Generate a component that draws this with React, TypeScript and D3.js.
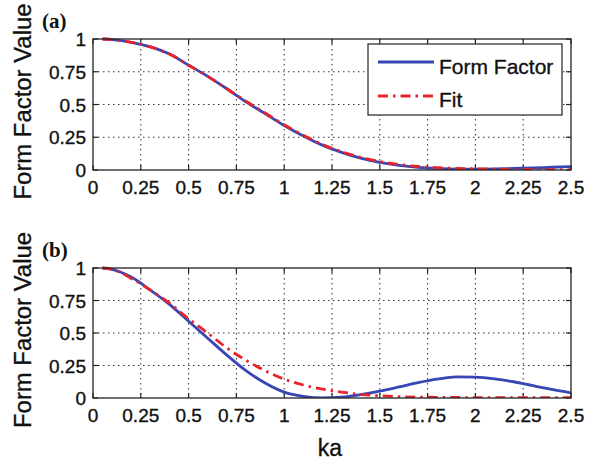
import React from "react";
import * as d3 from "d3";

// ka sample points shared by the curves
const kaA = [0.05, 0.1, 0.2, 0.3, 0.4, 0.5, 0.6, 0.7, 0.8, 0.9, 1.0, 1.1, 1.2, 1.3, 1.4, 1.5, 1.6, 1.7, 1.8, 1.9, 2.0, 2.1, 2.2, 2.3, 2.4, 2.5];

// panel (a)
const formFactorA = [1.0, 0.995, 0.975, 0.94, 0.885, 0.8, 0.715, 0.62, 0.52, 0.43, 0.34, 0.26, 0.19, 0.135, 0.09, 0.058, 0.035, 0.02, 0.012, 0.007, 0.006, 0.008, 0.012, 0.016, 0.021, 0.026];
const fitA = [1.0, 0.995, 0.975, 0.94, 0.885, 0.8, 0.715, 0.62, 0.525, 0.435, 0.345, 0.265, 0.195, 0.14, 0.097, 0.065, 0.042, 0.027, 0.018, 0.012, 0.009, 0.007, 0.005, 0.004, 0.003, 0.003];

// panel (b)
const formFactorB = [1.0, 0.99, 0.93, 0.83, 0.72, 0.59, 0.46, 0.33, 0.21, 0.115, 0.045, 0.012, 0.0, 0.006, 0.026, 0.053, 0.085, 0.118, 0.145, 0.162, 0.16, 0.147, 0.125, 0.095, 0.066, 0.04];
const fitB = [1.0, 0.99, 0.92, 0.83, 0.73, 0.61, 0.5, 0.385, 0.29, 0.21, 0.145, 0.1, 0.068, 0.045, 0.028, 0.017, 0.01, 0.007, 0.005, 0.004, 0.003, 0.003, 0.002, 0.002, 0.002, 0.002];

const xTicks = [0, 0.25, 0.5, 0.75, 1, 1.25, 1.5, 1.75, 2, 2.25, 2.5];
const yTicks = [0, 0.25, 0.5, 0.75, 1];
const seriesNames = ["Form Factor", "Fit"];

const BLUE = "#3646b4";
const RED = "#e8242a";
const FONT = "'Liberation Sans', Arial, Helvetica, sans-serif";
const INK = "#111";

const left = 93;
const right = 571;

// slightly heavier text strokes
const textStyle = { stroke: INK, strokeWidth: 0.35 };

function Panel({ top, bottom, ff, fit, tag, legend }: { top: number; bottom: number; ff: number[]; fit: number[]; tag: string; legend: boolean }) {
  const x = d3.scaleLinear().domain([0, 2.5]).range([left, right]);
  const y = d3.scaleLinear().domain([0, 1]).range([bottom, top]);
  const line = d3
    .line<number>()
    .x((_, i) => x(kaA[i]))
    .y((d) => y(d))
    .curve(d3.curveMonotoneX);
  const clipId = `clip-${tag}`;
  const tickLen = 5;
  return (
    <g>
      <defs>
        <clipPath id={clipId}>
          <rect x={left} y={top - 2} width={right - left} height={bottom - top + 2} />
        </clipPath>
      </defs>
      {/* grid */}
      {xTicks.slice(1, -1).map((t) => (
        <line key={"gx" + t} x1={x(t)} x2={x(t)} y1={top} y2={bottom} stroke="#333" strokeWidth={1} strokeDasharray="1.5,3.5" />
      ))}
      {yTicks.slice(1, -1).map((t) => (
        <line key={"gy" + t} x1={left} x2={right} y1={y(t)} y2={y(t)} stroke="#333" strokeWidth={1} strokeDasharray="1.5,3.5" />
      ))}
      {/* inner ticks on all four sides */}
      {xTicks.map((t) => (
        <g key={"tx" + t}>
          <line x1={x(t)} x2={x(t)} y1={bottom} y2={bottom - tickLen} stroke="#222" strokeWidth={1.2} />
          <line x1={x(t)} x2={x(t)} y1={top} y2={top + tickLen} stroke="#222" strokeWidth={1.2} />
          <text x={x(t)} y={bottom + 24} textAnchor="middle" fontSize={19} fontFamily={FONT} fill={INK} style={textStyle}>
            {String(t)}
          </text>
        </g>
      ))}
      {yTicks.map((t) => (
        <g key={"ty" + t}>
          <line x1={left} x2={left + tickLen} y1={y(t)} y2={y(t)} stroke="#222" strokeWidth={1.2} />
          <line x1={right} x2={right - tickLen} y1={y(t)} y2={y(t)} stroke="#222" strokeWidth={1.2} />
          <text x={86} y={y(t) + 7} textAnchor="end" fontSize={19} fontFamily={FONT} fill={INK} style={textStyle}>
            {String(t)}
          </text>
        </g>
      ))}
      {/* curves */}
      <g clipPath={`url(#${clipId})`}>
        <path d={line(ff) ?? ""} fill="none" stroke={BLUE} strokeWidth={2.8} />
        <path d={line(fit) ?? ""} fill="none" stroke={RED} strokeWidth={2.8} strokeDasharray="10,5,2.5,5" />
      </g>
      <rect x={left} y={top} width={right - left} height={bottom - top} fill="none" stroke="#222" strokeWidth={1.3} />
      {/* y label */}
      <text
        transform={`translate(31,${(top + bottom) / 2 - 3}) rotate(-90)`}
        textAnchor="middle"
        fontSize={23}
        fontFamily={FONT}
        fill={INK}
        style={textStyle}
        textLength={196}
        lengthAdjust="spacingAndGlyphs"
      >
        Form Factor Value
      </text>
      <text x={42} y={top - 11} fontSize={21} fontWeight="bold" fontFamily="'Liberation Serif', 'Times New Roman', serif" fill={INK}>
        {`(${tag})`}
      </text>
      {legend && (
        <g>
          <rect x={368} y={44} width={194} height={71} fill="#fff" stroke="#222" strokeWidth={1.2} />
          <line x1={378} x2={434} y1={62} y2={62} stroke={BLUE} strokeWidth={2.8} />
          <line x1={378} x2={434} y1={96} y2={96} stroke={RED} strokeWidth={2.8} strokeDasharray="10,5,2.5,5" />
          <text x={439} y={74} fontSize={21} fontFamily={FONT} fill={INK} style={textStyle}>
            {seriesNames[0]}
          </text>
          <text x={439} y={107} fontSize={21} fontFamily={FONT} fill={INK} style={textStyle}>
            {seriesNames[1]}
          </text>
        </g>
      )}
    </g>
  );
}

export default function App() {
  return (
    <svg width={590} height={462} style={{ position: "absolute", left: 0, top: 0, background: "#fff" }}>
      <rect width={590} height={462} fill="#fff" />
      <Panel top={39} bottom={170} ff={formFactorA} fit={fitA} tag="a" legend={true} />
      <Panel top={268} bottom={398} ff={formFactorB} fit={fitB} tag="b" legend={false} />
      <text x={330} y={456} textAnchor="middle" fontSize={23} fontFamily={FONT} fill={INK} style={textStyle}>
        ka
      </text>
    </svg>
  );
}
